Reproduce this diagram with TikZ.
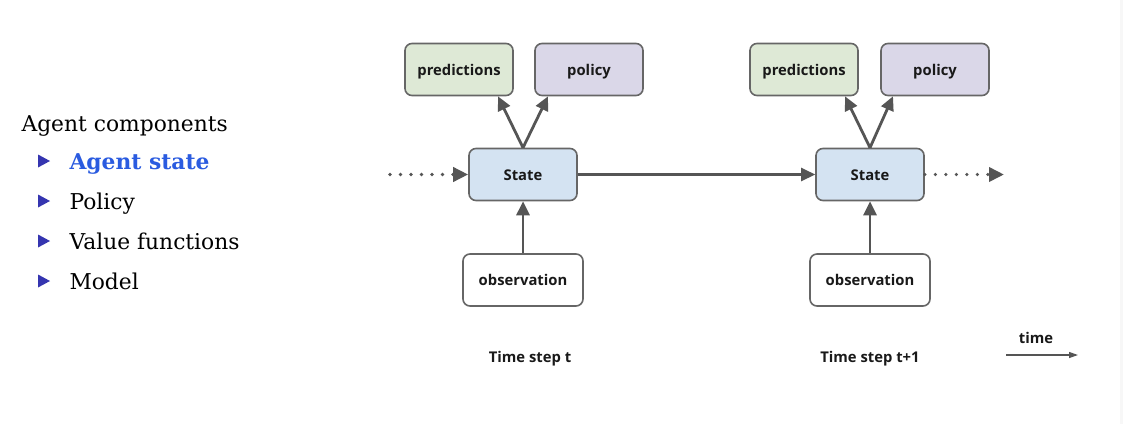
\documentclass[tikz,border=0pt]{standalone}
\usepackage{fontspec}
\newfontfamily\diag{Open Sans}
\newfontfamily\listfont{DejaVu Serif}
\usetikzlibrary{arrows.meta}
\definecolor{edge}{HTML}{666666}
\definecolor{arr}{HTML}{555555}
\definecolor{predfill}{HTML}{DEE9D6}
\definecolor{polfill}{HTML}{DAD7E8}
\definecolor{statefill}{HTML}{D4E3F2}
\definecolor{bulletblue}{HTML}{3535B0}
\definecolor{hiblue}{HTML}{2A5BE0}
\begin{document}
\begin{tikzpicture}[x=1pt,y=-1pt,
  lab/.style={font=\diag\bfseries\fontsize{14.8}{17}\selectfont, text=black!90, text height=11pt, text depth=0pt, inner sep=0pt},
  box/.style={draw=edge, line width=1.6pt, rounded corners=7pt, minimum width=108pt, minimum height=52pt, lab},
  obsbox/.style={box, minimum width=120pt, fill=white},
  conn/.style={draw=arr, line width=2.8pt, -{Triangle[length=14pt,width=13pt]}},
  hconn/.style={draw=arr, line width=2.4pt, -{Triangle[length=14pt,width=13pt]}},
  dotconn/.style={draw=arr, line width=3.6pt, line cap=round, dash pattern=on 0pt off 10.5pt, -{Triangle[length=15pt,width=14pt,line cap=butt]}},
  itemtext/.style={anchor=base west, font=\listfont\fontsize{21.8}{26}\selectfont},
  bul/.style={fill=bulletblue, draw=none}
]
\useasboundingbox (0,0) rectangle (1123,424);
\fill[white] (0,0) rectangle (1123,424);
\fill[black!3] (1120,0) rectangle (1123,424);

% left list
\node[itemtext] (title) at (18,131) {Agent components};
\node[itemtext, text=hiblue, font=\listfont\bfseries\fontsize{21.8}{26}\selectfont] (i1) at (66,169) {Agent state};
\node[itemtext] (i2) at (66,209) {Policy};
\node[itemtext] (i3) at (66,249) {Value functions};
\node[itemtext] (i4) at (66,289) {Model};
\foreach \y in {161,201,241,281}{
  \fill[bul] (38,\y-6.5) -- (50,\y) -- (38,\y+6.5) -- cycle;
}

% step t
\node[box, fill=predfill] (p1) at (459,69.5) {predictions};
\node[box, fill=polfill] (q1) at (589,69.5) {policy};
\node[box, fill=statefill] (s1) at (523,174.5) {State};
\node[obsbox] (o1) at (523,280) {observation};
\node[lab] (t1) at (530,357) {Time step t};

% step t+1
\node[box, fill=predfill] (p2) at (804,69.5) {predictions};
\node[box, fill=polfill] (q2) at (935,69.5) {policy};
\node[box, fill=statefill] (s2) at (870,174.5) {State};
\node[obsbox] (o2) at (870,280) {observation};
\node[lab] (t2) at (870,357) {Time step t+1};

\coordinate (din) at (390,174.5);
\coordinate (dout) at (1004,174.5);
\draw[dotconn] (din) -- (s1.west);
\draw[dotconn] (s2.east) -- (dout);
\draw[hconn] (s1.east) -- (s2.west);

\draw[conn] (s1.north) -- (p1.south -| 498,0);
\draw[conn] (s1.north) -- (q1.south -| 548,0);
\draw[conn] (s2.north) -- (p2.south -| 845,0);
\draw[conn] (s2.north) -- (q2.south -| 893,0);
\draw[conn] (o1.north) -- (s1.south);
\draw[conn] (o2.north) -- (s2.south);

% time
\node[lab] (tl) at (1036,338) {time};
\coordinate (ta) at (1006,355);
\coordinate (tb) at (1078,355);
\draw[draw=arr, line width=1.2pt, -{Triangle[length=9pt,width=6pt]}] (ta) -- (tb);
\end{tikzpicture}
\end{document}
